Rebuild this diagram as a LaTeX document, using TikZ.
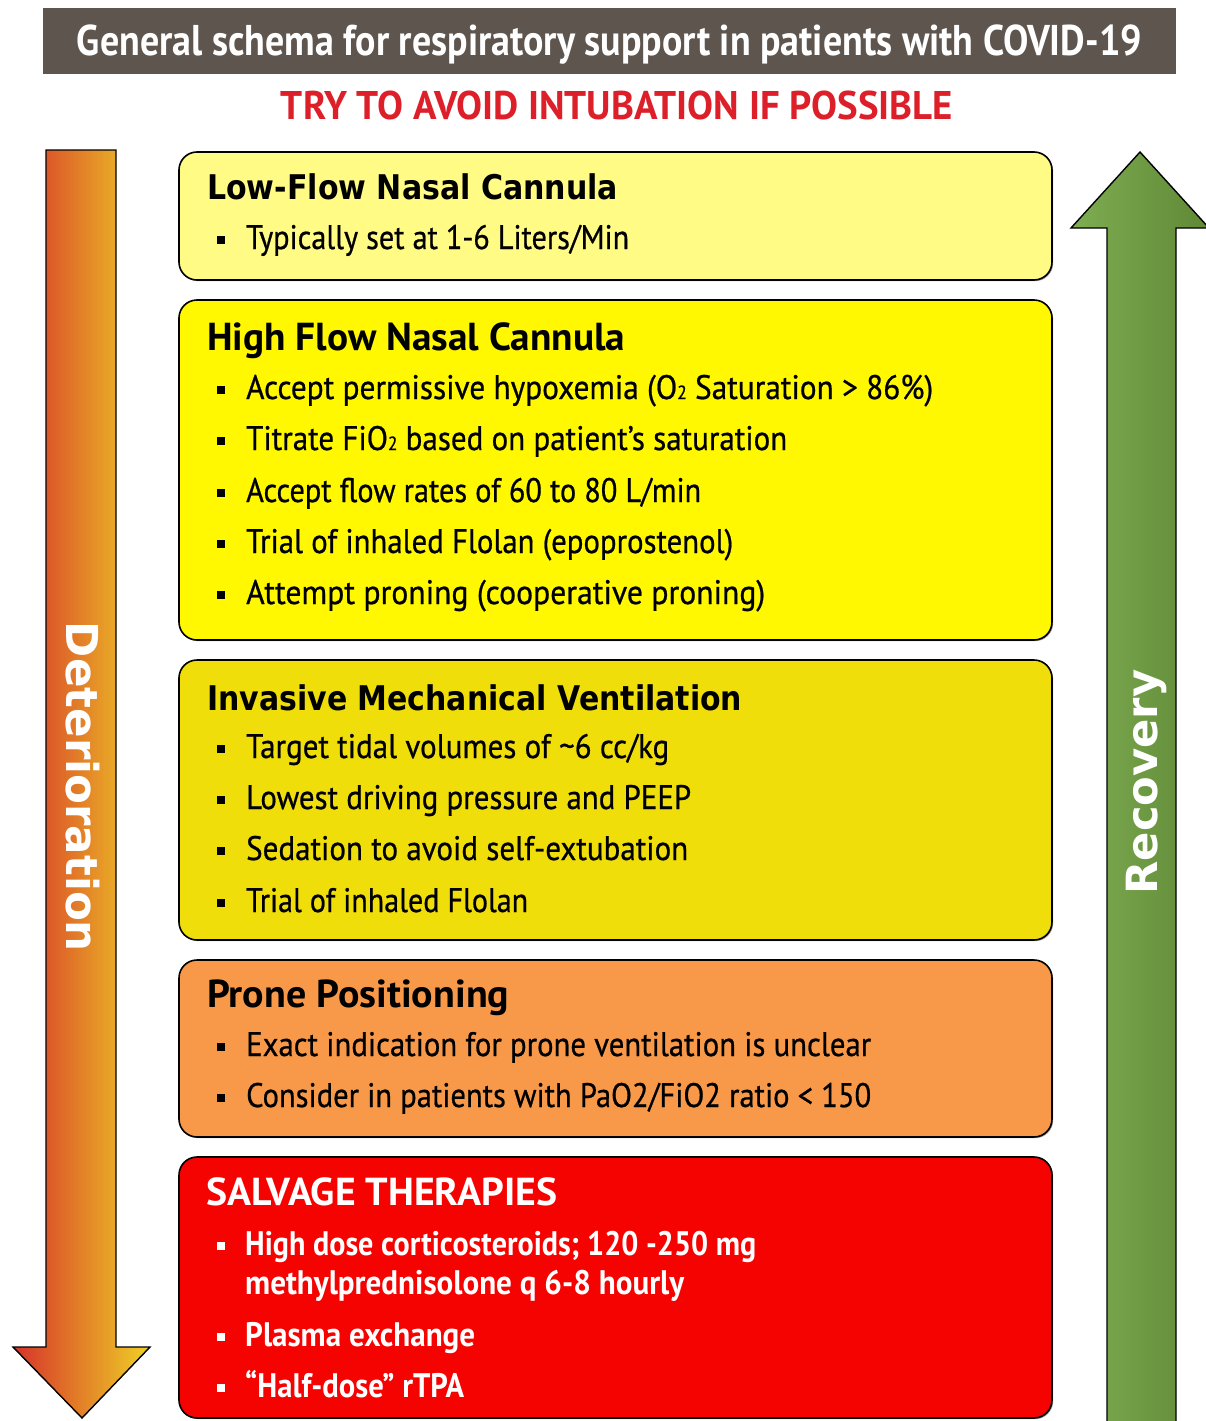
\documentclass[tikz,border=0pt]{standalone}
\usepackage{fontspec}
\usepackage{graphicx}
\setmainfont{PT Sans}
\newfontfamily\bodyfont{PT Sans}[FakeBold=0.7]
\newfontfamily\vfont{DejaVu Sans}
\usetikzlibrary{shadows}
\definecolor{titlebg}{HTML}{5E554F}
\definecolor{subred}{HTML}{DD1F2A}
\definecolor{cA}{HTML}{FFFB85}
\definecolor{cB}{HTML}{FFF800}
\definecolor{cC}{HTML}{F0DE0A}
\definecolor{cD}{HTML}{F8994A}
\definecolor{cE}{HTML}{F50300}
\definecolor{detL}{HTML}{D6322A}
\definecolor{detR}{HTML}{EFD126}
\definecolor{recL}{HTML}{7EAD52}
\definecolor{recR}{HTML}{608836}
\newcommand\fitw[2]{\resizebox{#1}{\height}{#2}}
\newcommand\btxt{\bodyfont\fontsize{34}{40}\selectfont}
\newcommand\bbtxt{\bfseries\fontsize{34}{40}\selectfont}
\newcommand\hdv{\vfont\bfseries\fontsize{34}{40}\selectfont}
\newcommand\hdp{\bfseries\fontsize{39}{45}\selectfont}
\newcommand\sbt{{\fontsize{19}{19}\selectfont 2}}
\begin{document}
\begin{tikzpicture}[x=1pt,y=-1pt,
  stagebox/.style={draw=black,line width=1.6pt,rounded corners=18pt,
    drop shadow={shadow xshift=1.2pt,shadow yshift=-1.2pt,opacity=0.35,fill=black}},
  bul/.style={fill=#1,draw=none,inner sep=0pt,minimum size=7.5pt,shape=rectangle},
  bul/.default=black,
  txt/.style={anchor=base west,inner sep=0pt,font=\btxt,text=#1},
  txt/.default=black,
  hv/.style={anchor=base west,inner sep=0pt,font=\hdv,text=black},
  hp/.style={anchor=base west,inner sep=0pt,font=\hdp,text=#1},
  hp/.default=black,
  bigarrow/.style={draw=black,line width=1.4pt,line join=miter}]
\useasboundingbox (0,0) rectangle (1205,1421);

% title
\fill[titlebg] (43,8) rectangle (1176,74);
\node[anchor=base,inner sep=0pt,text=white,font=\bfseries\fontsize{43}{49}\selectfont] (title) at (609.5,56)
  {\fitw{1065pt}{General schema for respiratory support in patients with COVID-19}};
\node[anchor=base,inner sep=0pt,text=subred,font=\bfseries\fontsize{40}{46}\selectfont] (sub) at (617,119)
  {\fitw{672pt}{TRY TO AVOID INTUBATION IF POSSIBLE}};

% arrows
\path[bigarrow,left color=detL,right color=detR]
  (46,150) -- (116,150) -- (116,1347) -- (150,1347) -- (82,1418) -- (13,1347) -- (46,1347) -- cycle;
\node[rotate=-90,anchor=base,inner sep=0pt,text=white,font=\vfont\bfseries\fontsize{44}{50}\selectfont] (det) at (66,787)
  {\fitw{330pt}{Deterioration}};
\path[bigarrow,left color=recL,right color=recR]
  (1107,1426) -- (1107,228) -- (1071,228) -- (1140,152) -- (1209,228) -- (1176,228) -- (1176,1426);
\node[rotate=90,anchor=base,inner sep=0pt,text=white,font=\vfont\bfseries\fontsize{43}{49}\selectfont] (rec) at (1157,782)
  {\fitw{225pt}{Recovery}};

% boxes
\path[stagebox,fill=cA] (179,152) rectangle (1052,280);
\path[stagebox,fill=cB] (179,300) rectangle (1052,640);
\path[stagebox,fill=cC] (179,660) rectangle (1052,940);
\path[stagebox,fill=cD] (179,960) rectangle (1052,1137);
\path[stagebox,fill=cE] (179,1157) rectangle (1052,1418);

% box 1
\node[hv] (h1) at (207,199) {\fitw{411pt}{Low-Flow Nasal Cannula}};
\node[bul] (q1a) at (221,240) {};
\node[txt] (t1a) at (246,249) {\fitw{383pt}{Typically set at 1-6 Liters/Min}};

% box 2
\node[hp] (h2) at (207,350) {\fitw{418pt}{High Flow Nasal Cannula}};
\node[bul] (q2a) at (221,390) {};
\node[txt] (t2a) at (246,399) {\fitw{687pt}{Accept permissive hypoxemia (O\sbt{} Saturation > 86\%)}};
\node[bul] (q2b) at (221,441) {};
\node[txt] (t2b) at (246,450) {\fitw{541pt}{Titrate FiO\sbt{} based on patient’s saturation}};
\node[bul] (q2c) at (221,493) {};
\node[txt] (t2c) at (246,502) {\fitw{455pt}{Accept flow rates of 60 to 80 L/min}};
\node[bul] (q2d) at (221,544) {};
\node[txt] (t2d) at (246,553) {\fitw{487pt}{Trial of inhaled Flolan (epoprostenol)}};
\node[bul] (q2e) at (221,595) {};
\node[txt] (t2e) at (246,604) {\fitw{519pt}{Attempt proning (cooperative proning)}};

% box 3
\node[hv] (h3) at (207,710) {\fitw{535pt}{Invasive Mechanical Ventilation}};
\node[bul] (q3a) at (221,749) {};
\node[txt] (t3a) at (246,758) {\fitw{423pt}{Target tidal volumes of \textasciitilde 6 cc/kg}};
\node[bul] (q3b) at (221,800) {};
\node[txt] (t3b) at (246,809) {\fitw{445pt}{Lowest driving pressure and PEEP}};
\node[bul] (q3c) at (221,851) {};
\node[txt] (t3c) at (246,860) {\fitw{442pt}{Sedation to avoid self-extubation}};
\node[bul] (q3d) at (221,903) {};
\node[txt] (t3d) at (246,912) {\fitw{282pt}{Trial of inhaled Flolan}};

% box 4
\node[hp] (h4) at (207,1007) {\fitw{302pt}{Prone Positioning}};
\node[bul] (q4a) at (221,1047) {};
\node[txt] (t4a) at (246,1056) {\fitw{625pt}{Exact indication for prone ventilation is unclear}};
\node[bul] (q4b) at (221,1098) {};
\node[txt] (t4b) at (246,1107) {\fitw{625pt}{Consider in patients with PaO2/FiO2 ratio < 150}};

% box 5
\node[hp=white] (h5) at (206,1205) {\fitw{351pt}{SALVAGE THERAPIES}};
\node[bul=white] (q5a) at (221,1246) {};
\node[txt=white,font=\bbtxt] (t5a) at (245,1255) {\fitw{511pt}{High dose corticosteroids; 120 -250 mg}};
\node[txt=white,font=\bbtxt] (t5b) at (245,1294) {\fitw{439pt}{methylprednisolone q 6-8 hourly}};
\node[bul=white] (q5c) at (221,1337) {};
\node[txt=white,font=\bbtxt] (t5c) at (245,1346) {\fitw{230pt}{Plasma exchange}};
\node[bul=white] (q5d) at (221,1388) {};
\node[txt=white,font=\bbtxt] (t5d) at (245,1397) {\fitw{219pt}{“Half-dose” rTPA}};
\end{tikzpicture}
\end{document}
